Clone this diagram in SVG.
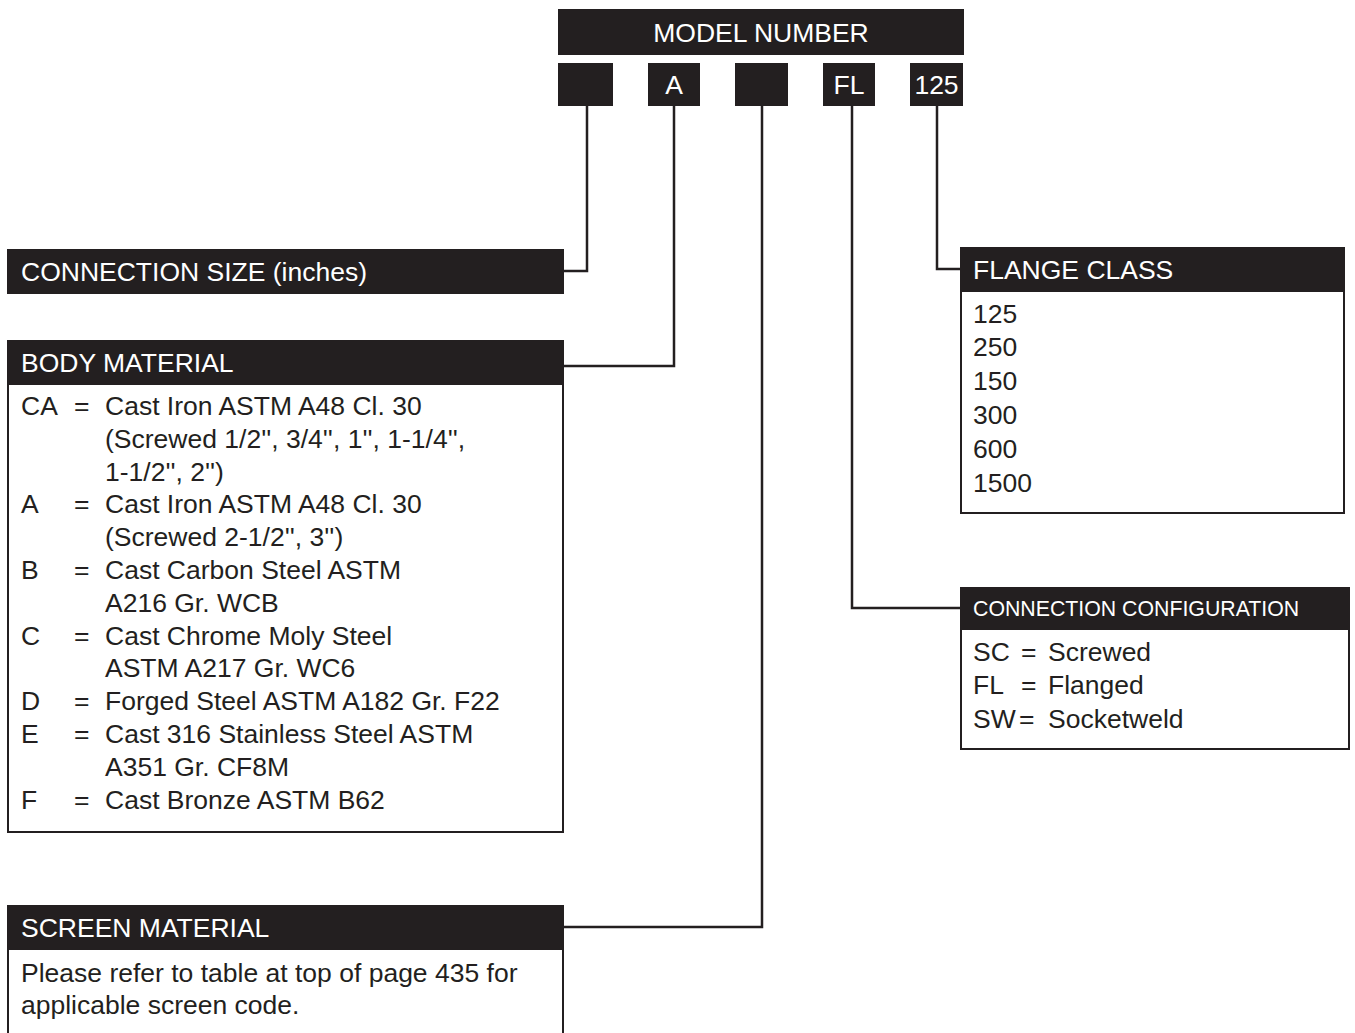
<svg xmlns="http://www.w3.org/2000/svg" width="1355" height="1033" viewBox="0 0 1355 1033">
<style>
.hdr{fill:#231f20}
.box{fill:#fff;stroke:#231f20;stroke-width:2}
.ht{fill:#fff;font-family:"Liberation Sans",Arial,sans-serif;font-size:26.5px}
.hs{fill:#fff;font-family:"Liberation Sans",Arial,sans-serif;font-size:21.3px}
.t{fill:#231f20;font-family:"Liberation Sans",Arial,sans-serif;font-size:26.5px}
.c{fill:none;stroke:#231f20;stroke-width:2.5}
</style>
<rect width="1355" height="1033" fill="#fff"/>
<g id="model-number">
<rect class="hdr" x="558" y="9" width="406" height="46"/>
<text class="ht" x="761" y="41.5" text-anchor="middle">MODEL NUMBER</text>
</g>
<g id="code-size"><rect class="hdr" x="558" y="63" width="55" height="43"/></g>
<g id="code-body"><rect class="hdr" x="648" y="63" width="52" height="43"/><text class="ht" x="674" y="94" text-anchor="middle">A</text></g>
<g id="code-screen"><rect class="hdr" x="735" y="63" width="53" height="43"/></g>
<g id="code-conn"><rect class="hdr" x="823" y="63" width="52" height="43"/><text class="ht" x="849" y="94" text-anchor="middle">FL</text></g>
<g id="code-flange"><rect class="hdr" x="910" y="63" width="53" height="43"/><text class="ht" x="936.5" y="94" text-anchor="middle">125</text></g>
<g id="connectors">
<polyline class="c" points="587,106 587,271 564,271"/>
<polyline class="c" points="674,106 674,366 564,366"/>
<polyline class="c" points="762,106 762,927 564,927"/>
<polyline class="c" points="852,106 852,608 960,608"/>
<polyline class="c" points="937,106 937,269 960,269"/>
</g>
<g id="connection-size">
<rect class="hdr" x="7" y="249" width="557" height="45"/>
<text class="ht" x="21" y="281">CONNECTION SIZE (inches)</text>
</g>
<g id="body-material">
<rect class="box" x="8" y="341" width="555" height="491"/>
<rect class="hdr" x="7" y="340" width="557" height="45"/>
<text class="ht" x="21" y="372">BODY MATERIAL</text>
<g class="t">
<text x="21" y="415">CA</text><text x="74" y="415">=</text><text x="105" y="415">Cast Iron ASTM A48 Cl. 30</text>
<text x="105" y="447.8">(Screwed 1/2'', 3/4'', 1'', 1-1/4'',</text>
<text x="105" y="480.6">1-1/2'', 2'')</text>
<text x="21" y="513.4">A</text><text x="74" y="513.4">=</text><text x="105" y="513.4">Cast Iron ASTM A48 Cl. 30</text>
<text x="105" y="546.2">(Screwed 2-1/2'', 3'')</text>
<text x="21" y="579">B</text><text x="74" y="579">=</text><text x="105" y="579">Cast Carbon Steel ASTM</text>
<text x="105" y="611.8">A216 Gr. WCB</text>
<text x="21" y="644.6">C</text><text x="74" y="644.6">=</text><text x="105" y="644.6">Cast Chrome Moly Steel</text>
<text x="105" y="677.4">ASTM A217 Gr. WC6</text>
<text x="21" y="710.2">D</text><text x="74" y="710.2">=</text><text x="105" y="710.2">Forged Steel ASTM A182 Gr. F22</text>
<text x="21" y="743">E</text><text x="74" y="743">=</text><text x="105" y="743">Cast 316 Stainless Steel ASTM</text>
<text x="105" y="775.8">A351 Gr. CF8M</text>
<text x="21" y="808.6">F</text><text x="74" y="808.6">=</text><text x="105" y="808.6">Cast Bronze ASTM B62</text>
</g>
</g>
<g id="screen-material">
<rect class="box" x="8" y="906" width="555" height="140"/>
<rect class="hdr" x="7" y="905" width="557" height="45"/>
<text class="ht" x="21" y="937">SCREEN MATERIAL</text>
<text class="t" x="21" y="981.5">Please refer to table at top of page 435 for</text>
<text class="t" x="21" y="1013.5">applicable screen code.</text>
</g>
<g id="flange-class">
<rect class="box" x="961" y="248" width="383" height="265"/>
<rect class="hdr" x="960" y="247" width="385" height="45"/>
<text class="ht" x="973" y="279">FLANGE CLASS</text>
<g class="t">
<text x="973" y="322.5">125</text>
<text x="973" y="356.3">250</text>
<text x="973" y="390.1">150</text>
<text x="973" y="423.9">300</text>
<text x="973" y="457.7">600</text>
<text x="973" y="491.5">1500</text>
</g>
</g>
<g id="connection-configuration">
<rect class="box" x="961" y="588" width="388" height="161"/>
<rect class="hdr" x="960" y="587" width="390" height="43"/>
<text class="hs" x="973" y="616">CONNECTION CONFIGURATION</text>
<g class="t">
<text x="973" y="660.5">SC</text><text x="1021" y="660.5">=</text><text x="1048" y="660.5">Screwed</text>
<text x="973" y="694">FL</text><text x="1021" y="694">=</text><text x="1048" y="694">Flanged</text>
<text x="973" y="727.5">SW</text><text x="1019" y="727.5">=</text><text x="1048" y="727.5">Socketweld</text>
</g>
</g>
</svg>
